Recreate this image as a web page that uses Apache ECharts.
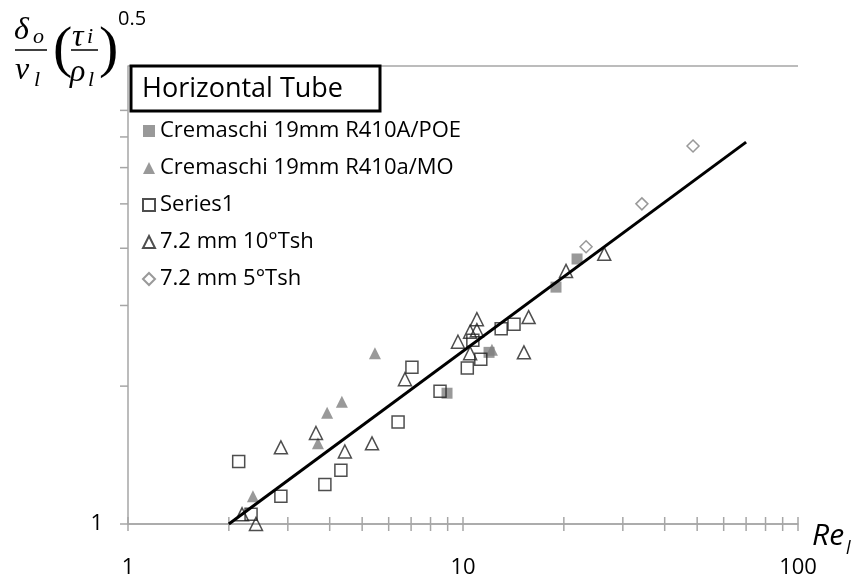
<!DOCTYPE html>
<html>
<head>
<meta charset="utf-8">
<script src="https://cdn.jsdelivr.net/npm/echarts@6/dist/echarts.min.js"></script>
<style>
    html, body { margin: 0; padding: 0; background: #fff; }
    #chart { width: 864px; height: 586px; }
</style>
</head>
<body>
<div id="chart"></div>
<script>
// Cremaschi 19mm R410A/POE (filled squares)
const poeRe = [8.96, 11.96, 18.95, 21.9];
const poeY = [1.93, 2.37, 3.29, 3.79];
// Cremaschi 19mm R410a/MO (filled triangles)
const moRe = [2.36, 3.69, 3.93, 4.35, 5.46, 12.2];
const moY = [1.15, 1.50, 1.75, 1.85, 2.36, 2.40];
// Series1 (open squares)
const s1Re = [2.14, 2.33, 2.86, 3.87, 4.32, 6.40, 7.04, 8.54, 10.3, 11.3, 10.7, 13.0, 14.2];
const s1Y = [1.37, 1.05, 1.15, 1.22, 1.31, 1.67, 2.20, 1.95, 2.19, 2.29, 2.52, 2.67, 2.73];
// 7.2 mm 10°Tsh (open triangles)
const t10Re = [2.19, 2.41, 2.86, 3.64, 4.44, 5.35, 6.71, 9.66, 10.5, 10.5, 11.0, 11.0, 15.7, 15.2, 20.3, 26.4];
const t10Y = [1.05, 1.00, 1.47, 1.58, 1.44, 1.50, 2.07, 2.50, 2.36, 2.63, 2.80, 2.65, 2.83, 2.37, 3.57, 3.89];
// 7.2 mm 5°Tsh (open diamonds)
const t5Re = [23.3, 34.2, 48.6];
const t5Y = [4.03, 5.00, 6.69];
// correlation line
const fitRe = [2.0, 70];
const fitY = [1.0, 6.82];
// tick positions on the log axes
const xTicks = [1, 2, 3, 4, 5, 6, 7, 8, 9, 10, 20, 30, 40, 50, 60, 70, 80, 90, 100];
const yTicks = [1, 2, 3, 4, 5, 6, 7, 8];

const names = ['Cremaschi 19mm R410A/POE', 'Cremaschi 19mm R410a/MO', 'Series1', '7.2 mm 10°Tsh', '7.2 mm 5°Tsh'];
const gray = '#7f7f7f';
const axisGray = '#a6a6a6';

function pairs(xs, ys) {
    return xs.map((x, i) => [x, ys[i]]);
}

function scatter(name, xs, ys, symbol, size, itemStyle) {
    return {
        name: name,
        type: 'scatter',
        data: pairs(xs, ys),
        symbol: symbol,
        symbolSize: size,
        itemStyle: itemStyle,
        clip: false,
        silent: true
    };
}

// small helper for the pieces of the axis formula
function mathText(x, y, text, size, italic, family) {
    return {
        type: 'text', z: 100, x: x, y: y,
        style: {
            text: text,
            fontFamily: family || 'Liberation Serif',
            fontStyle: italic ? 'italic' : 'normal',
            fontSize: size,
            fill: '#000',
            verticalAlign: 'middle',
            textVerticalAlign: 'middle'
        }
    };
}

const chart = echarts.init(document.getElementById('chart'));
const option = {
    animation: false,
    grid: {left: 128, right: 66, top: 66, bottom: 62},
    xAxis: {
        type: 'log',
        logBase: 10,
        min: 1,
        max: 100,
        axisLine: {show: true, lineStyle: {color: axisGray, width: 1.5}},
        axisTick: {show: false},
        splitLine: {show: false},
        axisLabel: {fontFamily: 'Open Sans', fontSize: 22, color: '#000', margin: 33}
    },
    yAxis: {
        type: 'log',
        logBase: 10,
        min: 1,
        max: 10,
        axisLine: {show: true, lineStyle: {color: axisGray, width: 1.5}},
        axisTick: {show: false},
        splitLine: {show: true, lineStyle: {color: axisGray, width: 1.5}},
        axisLabel: {
            fontFamily: 'Open Sans', fontSize: 22, color: '#000', margin: 25,
            formatter: v => (v === 1 ? '1' : '')
        }
    },
    legend: {
        data: names,
        orient: 'vertical',
        left: 142,
        top: 118,
        padding: 0,
        itemWidth: 12,
        itemHeight: 12,
        itemGap: 11,
        selectedMode: false,
        textStyle: {fontFamily: 'Open Sans', fontSize: 22, color: '#000', lineHeight: 26}
    },
    series: [
        // minor ticks, drawn through the axes
        {
            type: 'custom',
            data: xTicks.map(v => [v, 1]),
            clip: false,
            silent: true,
            z: 1,
            renderItem: function (params, api) {
                const p = api.coord([api.value(0), api.value(1)]);
                return {
                    type: 'line',
                    shape: {x1: p[0], y1: p[1] - 7, x2: p[0], y2: p[1] + 7},
                    style: {stroke: axisGray, lineWidth: 1.5}
                };
            }
        },
        {
            type: 'custom',
            data: yTicks.map(v => [1, v]),
            clip: false,
            silent: true,
            z: 1,
            renderItem: function (params, api) {
                const p = api.coord([api.value(0), api.value(1)]);
                return {
                    type: 'line',
                    shape: {x1: p[0] - 8, y1: p[1], x2: p[0], y2: p[1]},
                    style: {stroke: axisGray, lineWidth: 1.5}
                };
            }
        },
        scatter(names[0], poeRe, poeY, 'rect', 11, {color: gray}),
        scatter(names[1], moRe, moY, 'triangle', 12, {color: gray}),
        scatter(names[2], s1Re, s1Y, 'rect', 12, {color: 'rgba(255,255,255,0)', borderColor: '#222', borderWidth: 1.5}),
        scatter(names[3], t10Re, t10Y, 'triangle', 13, {color: 'rgba(255,255,255,0)', borderColor: '#222', borderWidth: 1.5}),
        scatter(names[4], t5Re, t5Y, 'diamond', 12, {color: 'rgba(255,255,255,0)', borderColor: gray, borderWidth: 1.5}),
        {
            name: 'fit',
            type: 'line',
            data: pairs(fitRe, fitY),
            symbol: 'none',
            clip: false,
            silent: true,
            z: 5,
            lineStyle: {color: '#000', width: 3}
        }
    ],
    graphic: [
        // title box
        {
            type: 'rect', z: 100,
            shape: {x: 131, y: 66, width: 249, height: 45},
            style: {fill: '#fff', stroke: '#000', lineWidth: 3}
        },
        {
            type: 'text', z: 101, x: 142, y: 89,
            style: {text: 'Horizontal Tube', fontFamily: 'Open Sans', fontSize: 27, fill: '#000',
                align: 'left', verticalAlign: 'middle', textAlign: 'left', textVerticalAlign: 'middle'}
        },
        // y axis quantity: δo/νl (τi/ρl)^0.5
        mathText(14, 31, 'δ', 32, true),
        mathText(33, 37, 'o', 22, true),
        {type: 'line', z: 100, shape: {x1: 15, y1: 50, x2: 47, y2: 50}, style: {stroke: '#000', lineWidth: 1.5}},
        mathText(15, 71, 'ν', 32, true),
        mathText(34, 80, 'l', 22, true),
        mathText(53, 51, '(', 58, false),
        mathText(72, 38, 'τ', 32, true),
        mathText(87, 37, 'i', 22, true),
        {type: 'line', z: 100, shape: {x1: 71, y1: 50, x2: 98, y2: 50}, style: {stroke: '#000', lineWidth: 1.5}},
        mathText(70, 73, 'ρ', 32, true),
        mathText(88, 80, 'l', 22, true),
        mathText(99, 51, ')', 58, false),
        mathText(118, 19, '0.5', 20, false, 'Open Sans'),
        // x axis quantity: Re_l
        mathText(812, 536, 'Re', 30, true, 'Open Sans'),
        mathText(846, 549, 'l', 18, true, 'Open Sans')
    ]
};
chart.setOption(option);
</script>
</body>
</html>
